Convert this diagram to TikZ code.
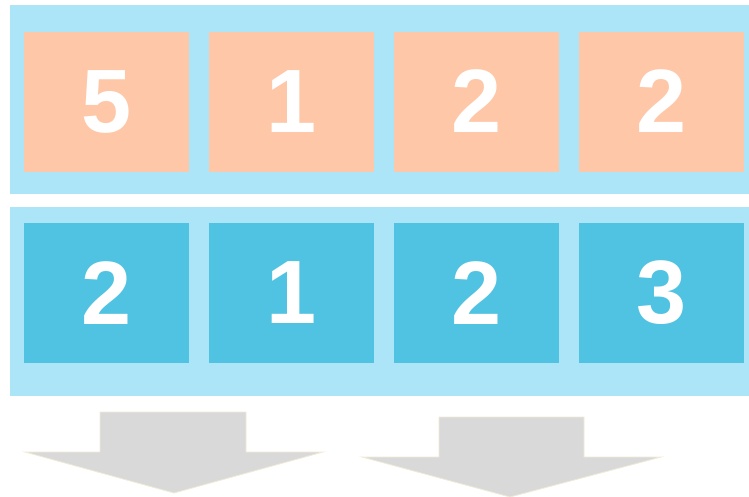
\documentclass[tikz,border=0pt]{standalone}
\usepackage{fontspec}
\setmainfont{Liberation Sans}
\definecolor{panelblue}{RGB}{173,229,248}
\definecolor{peach}{RGB}{254,199,167}
\definecolor{cellblue}{RGB}{79,195,225}
\definecolor{arrowgray}{RGB}{217,217,217}
\definecolor{arrowedge}{RGB}{240,234,214}
\begin{document}
\begin{tikzpicture}[x=1pt,y=-1pt,
  panel/.style={fill=panelblue,draw=none},
  cell/.style={draw=none,minimum width=165pt,minimum height=140pt,inner sep=0pt,
    text=white,font=\fontsize{90}{90}\selectfont\bfseries},
  topcell/.style={cell,fill=peach},
  botcell/.style={cell,fill=cellblue},
  bigarrow/.style={fill=arrowgray,draw=arrowedge,line width=0.8pt,line join=miter}]
\useasboundingbox (0,0) rectangle (749,496);
\fill[white] (0,0) rectangle (749,496);
\fill[panel] (10,5) rectangle (749,194);
\fill[panel] (10,207) rectangle (749,396);
\node[topcell] (t1) at (106.5,101.5) {5};
\node[topcell] (t2) at (291.5,101.5) {1};
\node[topcell] (t3) at (476.5,101.5) {2};
\node[topcell] (t4) at (661.5,101.5) {2};
\node[botcell] (b1) at (106.5,293) {2};
\node[botcell] (b2) at (291.5,293) {1};
\node[botcell] (b3) at (476.5,293) {2};
\node[botcell] (b4) at (661.5,293) {3};
\draw[bigarrow] (100,412) -- (246,412) -- (246,452) -- (323,452) -- (174,493) -- (25,452) -- (100,452) -- cycle;
\draw[bigarrow] (439,417) -- (584,417) -- (584,457) -- (661,457) -- (510,497) -- (362,457) -- (439,457) -- cycle;
\end{tikzpicture}
\end{document}
